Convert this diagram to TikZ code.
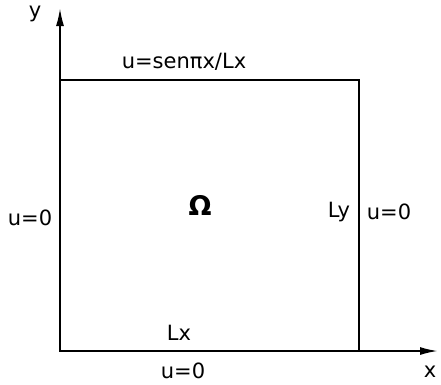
\documentclass[tikz,border=0pt]{standalone}
\usepackage{fontspec}
\setmainfont{DejaVu Sans}
\usetikzlibrary{arrows.meta}

\tikzset{
  lbl/.style={inner sep=0pt, font=\fontsize{21}{22}\selectfont},
  axis/.style={line width=1.9pt, -{Latex[length=18pt,width=8pt]}}
}

\begin{document}
\begin{tikzpicture}[x=1pt, y=-1pt]
  \useasboundingbox (0,0) rectangle (441,384);
  % domain
  \draw[line width=1.9pt] (60,80) rectangle (359,351);
  % axes
  \coordinate (O) at (60,351);
  \coordinate (ytip) at (60,8);
  \coordinate (xtip) at (438,351);
  \draw[axis] (O) -- (ytip);
  \draw[axis] (O) -- (xtip);
  \node[lbl] (ylab) at (35,14) {y};
  \node[lbl] (xlab) at (430,372) {x};
  % boundary conditions
  \node[lbl] (top) at (184,62) {u=senπx/Lx};
  \node[lbl] (left) at (30,218) {u=0};
  \node[lbl] (right) at (389,212) {u=0};
  \node[lbl] (bottom) at (183,371) {u=0};
  \node[lbl, font=\fontsize{27}{28}\selectfont] (omega) at (200,205) {\textbf{Ω}};
  \node[lbl] (ly) at (339,212) {Ly};
  \node[lbl] (lx) at (179,333) {Lx};
\end{tikzpicture}
\end{document}
